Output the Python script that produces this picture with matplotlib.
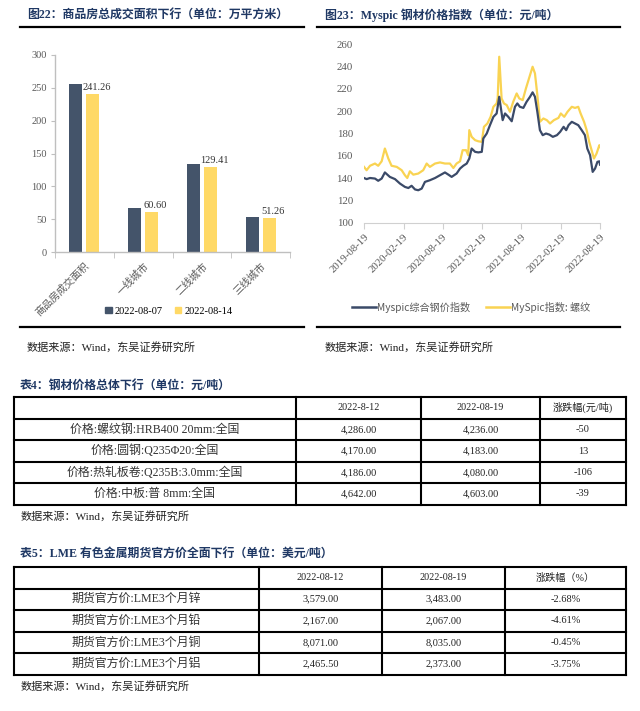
import matplotlib
matplotlib.use("Agg")
import matplotlib.pyplot as plt
import matplotlib.transforms as mtransforms
import pandas as pd
from matplotlib.lines import Line2D
from matplotlib.patches import Patch


W, H = 640, 711
SERIF = ["Liberation Serif", "Noto Sans CJK SC"]
CJK = ["Noto Sans CJK SC", "Liberation Serif"]
NAVY = "#1F3864"
DARK = "#44546A"
GOLD = "#FFD966"
GREY = "#595959"

# ---- fig 22 data
AREA_CATS = ["商品房成交面积", "一线城市", "二线城市", "三线城市"]
AREA_0807 = [256.0, 67.4, 134.5, 53.4]
AREA_0814 = [241.26, 60.60, 129.41, 51.26]
AREA_LEGEND = ["2022-08-07", "2022-08-14"]

# ---- fig 23 data
COMP_DATES = [
    "2019-08-19", "2019-08-31", "2019-09-16", "2019-10-09", "2019-10-24",
    "2019-11-09", "2019-11-24", "2019-12-17", "2020-01-10", "2020-02-02",
    "2020-02-25", "2020-03-12", "2020-03-27", "2020-04-12", "2020-04-27",
    "2020-05-13", "2020-05-28", "2020-06-20", "2020-07-14", "2020-08-06",
    "2020-08-29", "2020-09-14", "2020-09-29", "2020-10-22", "2020-11-07",
    "2020-11-22", "2020-12-08", "2020-12-20", "2020-12-31", "2021-01-16",
    "2021-01-31", "2021-02-16", "2021-02-23", "2021-03-11", "2021-03-26",
    "2021-04-11", "2021-04-26", "2021-05-08", "2021-05-24", "2021-06-04",
    "2021-06-19", "2021-07-05", "2021-07-20", "2021-07-31", "2021-08-12",
    "2021-08-28", "2021-09-12", "2021-09-28", "2021-10-10", "2021-10-21",
    "2021-11-01", "2021-11-13", "2021-11-26", "2021-12-11", "2021-12-27",
    "2022-01-12", "2022-01-31", "2022-02-15", "2022-03-03", "2022-03-15",
    "2022-03-26", "2022-04-10", "2022-04-25", "2022-05-10", "2022-05-26",
    "2022-06-10", "2022-06-21", "2022-07-04", "2022-07-16", "2022-07-27",
    "2022-08-07", "2022-08-16", "2022-08-19",
]
COMP_VALUES = [
    140, 139, 140, 139.5, 137.5, 139.5, 145, 141, 139, 135,
    132, 131, 133, 129.7, 129, 130.5, 136.5, 138, 140, 142.5,
    145, 143, 141, 144, 148.5, 151, 153, 157.5, 166.5, 163.5,
    163, 163.5, 175.5, 180, 187.5, 195, 198, 213, 192, 198,
    195, 191, 204, 207, 204, 203, 208.5, 213, 217, 213,
    199.5, 183, 178.5, 180, 179, 177, 178.5, 181.5, 186, 183,
    187.5, 190.5, 189, 187.5, 183, 178.5, 166.5, 160.5, 145.5, 148.5,
    154.5, 155, 152,
]
REBAR_DATES = [
    "2019-08-19", "2019-08-31", "2019-09-16", "2019-10-09", "2019-10-24",
    "2019-11-09", "2019-11-24", "2019-12-10", "2019-12-25", "2020-01-18",
    "2020-02-10", "2020-02-25", "2020-03-07", "2020-03-19", "2020-04-04",
    "2020-04-27", "2020-05-20", "2020-06-05", "2020-06-20", "2020-07-14",
    "2020-08-06", "2020-08-29", "2020-09-21", "2020-10-07", "2020-10-22",
    "2020-11-07", "2020-11-19", "2020-12-05", "2020-12-15", "2020-12-20",
    "2020-12-31", "2021-01-16", "2021-01-31", "2021-02-16", "2021-02-26",
    "2021-03-14", "2021-03-29", "2021-04-11", "2021-04-26", "2021-05-01",
    "2021-05-08", "2021-05-19", "2021-05-30", "2021-06-12", "2021-06-27",
    "2021-07-12", "2021-07-28", "2021-08-09", "2021-08-25", "2021-09-09",
    "2021-09-28", "2021-10-10", "2021-10-21", "2021-11-01", "2021-11-13",
    "2021-11-29", "2021-12-15", "2021-12-30", "2022-01-17", "2022-02-07",
    "2022-02-18", "2022-03-06", "2022-03-21", "2022-04-10", "2022-04-25",
    "2022-05-10", "2022-05-21", "2022-06-06", "2022-06-18", "2022-06-30",
    "2022-07-11", "2022-07-22", "2022-08-03", "2022-08-16", "2022-08-19",
]
REBAR_VALUES = [
    150, 147, 151, 153, 151, 155, 166.5, 157.5, 151, 150,
    147, 142.5, 140, 146, 143, 144, 147, 153, 150, 153,
    154, 153, 153, 149, 153, 155, 165, 165, 160.5, 183,
    177, 174, 173, 172.5, 186, 189, 195, 204, 207, 212,
    249, 211.5, 207, 205.5, 199.5, 208.5, 216, 211.5, 210, 220.5,
    232.5, 240, 234, 214.5, 190.5, 193.5, 192, 189, 192, 194,
    198, 195, 199.5, 204, 203, 204, 198, 190.5, 183, 172.5,
    165, 157.5, 162, 169.5, 168,
]
PRICE_LEGEND = ["Myspic综合钢价指数", "MySpic指数: 螺纹"]
DATE_TICKS = ["2019-08-19", "2020-02-19", "2020-08-19", "2021-02-19",
              "2021-08-19", "2022-02-19", "2022-08-19"]

# ---- table 4 data
T4_HEADER = ["2022-8-12", "2022-08-19", "涨跌幅(元/吨)"]
T4_ITEMS = ["价格:螺纹钢:HRB400 20mm:全国", "价格:圆钢:Q235Φ20:全国",
            "价格:热轧板卷:Q235B:3.0mm:全国", "价格:中板:普 8mm:全国"]
T4_PREV = ["4,286.00", "4,170.00", "4,186.00", "4,642.00"]
T4_LAST = ["4,236.00", "4,183.00", "4,080.00", "4,603.00"]
T4_CHG = ["-50", "13", "-106", "-39"]

# ---- table 5 data
T5_HEADER = ["2022-08-12", "2022-08-19", "涨跌幅（%）"]
T5_ITEMS = ["期货官方价:LME3个月锌", "期货官方价:LME3个月铅",
            "期货官方价:LME3个月铜", "期货官方价:LME3个月铝"]
T5_PREV = ["3,579.00", "2,167.00", "8,071.00", "2,465.50"]
T5_LAST = ["3,483.00", "2,067.00", "8,035.00", "2,373.00"]
T5_CHG = ["-2.68%", "-4.61%", "-0.45%", "-3.75%"]

SOURCE = "数据来源：Wind，东吴证券研究所"


def px_axes(fig, x0, y0, x1, y1):
    return fig.add_axes([x0 / W, 1 - y1 / H, (x1 - x0) / W, (y1 - y0) / H])


def draw_table(ax, cols, rows, header, items, prev, last, chg):
    for x in cols:
        ax.plot([x, x], [rows[0], rows[-1]], color="black", lw=1.5,
                solid_capstyle="projecting")
    for y in rows:
        ax.plot([cols[0], cols[-1]], [y, y], color="black", lw=1.5,
                solid_capstyle="projecting")
    for j, txt in enumerate(header):
        xc = (cols[j + 1] + cols[j + 2]) / 2
        yc = (rows[0] + rows[1]) / 2
        ax.text(xc, yc, txt, ha="center", va="center", fontsize=7.3,
                family=SERIF, color="#222222")
    for i in range(len(items)):
        yc = (rows[i + 1] + rows[i + 2]) / 2
        ax.text((cols[0] + cols[1]) / 2, yc, items[i], ha="center",
                va="center", fontsize=8.6, family=SERIF, color="#333333")
        for j, val in enumerate([prev[i], last[i], chg[i]]):
            xc = (cols[j + 1] + cols[j + 2]) / 2
            ax.text(xc, yc, val, ha="center", va="center", fontsize=7.5,
                    family=SERIF, color="#222222")


def main() -> None:
    fig = plt.figure(figsize=(W / 100, H / 100), dpi=100)

    page = fig.add_axes([0, 0, 1, 1])
    page.set_xlim(0, W)
    page.set_ylim(H, 0)
    page.axis("off")

    # titles, rules and sources
    page.text(27, 15, "图22：商品房总成交面积下行（单位：万平方米）", fontsize=8.6,
              weight="bold", color=NAVY, family=SERIF, va="center")
    page.text(325, 15, "图23：Myspic 钢材价格指数（单位：元/吨）", fontsize=8.6,
              weight="bold", color=NAVY, family=SERIF, va="center")
    for x0, x1 in [(20, 304), (317, 620)]:
        page.plot([x0, x1], [26.5, 26.5], color="black", lw=1.6)
        page.plot([x0, x1], [326.5, 326.5], color="black", lw=1.6)
    page.text(27, 347, SOURCE, fontsize=8, family=SERIF, va="center", color="#222222")
    page.text(325, 347, SOURCE, fontsize=8, family=SERIF, va="center", color="#222222")

    page.text(20, 386, "表4：钢材价格总体下行（单位：元/吨）", fontsize=8.6,
              weight="bold", color=NAVY, family=SERIF, va="center")
    draw_table(page, [14, 296, 421, 540, 626],
               [397, 418.7, 440.3, 462, 483.3, 504.5],
               T4_HEADER, T4_ITEMS, T4_PREV, T4_LAST, T4_CHG)
    page.text(21, 516, SOURCE, fontsize=8, family=SERIF, va="center", color="#222222")

    page.text(20, 554, "表5：LME 有色金属期货官方价全面下行（单位：美元/吨）", fontsize=8.6,
              weight="bold", color=NAVY, family=SERIF, va="center")
    draw_table(page, [14, 259, 382, 505, 626],
               [567, 588.5, 610, 631.7, 653.3, 675],
               T5_HEADER, T5_ITEMS, T5_PREV, T5_LAST, T5_CHG)
    page.text(21, 686, SOURCE, fontsize=8, family=SERIF, va="center", color="#222222")

    # ---- bar chart
    ax1 = px_axes(fig, 55, 55, 290, 252)
    xs = range(len(AREA_CATS))
    ax1.bar([x - 0.145 for x in xs], AREA_0807, width=0.22, color=DARK)
    bars = ax1.bar([x + 0.145 for x in xs], AREA_0814, width=0.22, color=GOLD)
    for b, v in zip(bars, AREA_0814):
        ax1.text(b.get_x() + b.get_width() / 2 + 0.06, v + 3, f"{v:.2f}",
                 ha="center", va="bottom", fontsize=7.5, family=SERIF, color="#333333")
    ax1.set_xlim(-0.5, 3.5)
    ax1.set_ylim(0, 300)
    ax1.set_yticks(range(0, 301, 50))
    ax1.set_xticks(list(xs))
    ax1.set_xticklabels(AREA_CATS, rotation=45, ha="right", va="top",
                        rotation_mode="anchor", family=CJK, fontsize=7.3, color=GREY)
    shift = mtransforms.ScaledTranslation(6 / 100, 0, fig.dpi_scale_trans)
    for lab in ax1.get_xticklabels():
        lab.set_transform(lab.get_transform() + shift)
    ax1.set_xticks([-0.5, 0.5, 1.5, 2.5, 3.5], minor=True)
    ax1.tick_params(axis="x", which="major", length=0, pad=6)
    ax1.tick_params(axis="x", which="minor", length=4, color="#bfbfbf")
    ax1.tick_params(axis="y", length=3, color="#bfbfbf", labelsize=7.5,
                    labelcolor=GREY, pad=3)
    for lab in ax1.get_yticklabels():
        lab.set_family(SERIF)
    for s in ["top", "right"]:
        ax1.spines[s].set_visible(False)
    for s in ["left", "bottom"]:
        ax1.spines[s].set_color("#bfbfbf")
        ax1.spines[s].set_linewidth(1.0)
    handles = [Patch(color=DARK), Patch(color=GOLD)]
    fig.legend(handles, AREA_LEGEND, loc="center", bbox_to_anchor=(169 / W, 1 - 311 / H),
               ncol=2, frameon=False, handlelength=0.6, handleheight=0.6,
               handletextpad=0.3, columnspacing=1.2,
               prop={"family": SERIF, "size": 7.5})

    # ---- line chart
    ax2 = px_axes(fig, 364, 44.5, 600, 222.5)
    comp = pd.Series(COMP_VALUES, index=pd.to_datetime(COMP_DATES))
    rebar = pd.Series(REBAR_VALUES, index=pd.to_datetime(REBAR_DATES))
    ax2.plot(rebar.index, rebar.values, color="#F9D352", lw=1.6)
    ax2.plot(comp.index, comp.values, color="#3B4A68", lw=1.6)
    ticks = pd.to_datetime(DATE_TICKS)
    ax2.set_xlim(ticks[0], ticks[-1])
    ax2.set_ylim(100, 260)
    ax2.set_yticks(range(100, 261, 20))
    ax2.set_xticks(ticks)
    ax2.set_xticklabels(DATE_TICKS, rotation=45, ha="right", va="top",
                        rotation_mode="anchor", family=SERIF, fontsize=7.8, color=GREY)
    ax2.tick_params(axis="x", length=4, color="#d0d0d0", pad=3)
    ax2.tick_params(axis="y", length=0, pad=8, labelsize=7.8, labelcolor=GREY)
    for lab in ax2.get_yticklabels():
        lab.set_family(SERIF)
    for s in ["top", "right", "left"]:
        ax2.spines[s].set_visible(False)
    ax2.spines["bottom"].set_color("#d0d0d0")
    ax2.spines["bottom"].set_clip_on(False)
    lh = [Line2D([], [], color="#3B4A68", lw=1.8), Line2D([], [], color="#F9D352", lw=1.8)]
    fig.legend(lh, PRICE_LEGEND, loc="center", bbox_to_anchor=(471 / W, 1 - 307 / H),
               ncol=2, frameon=False, handlelength=2.4, handletextpad=0.1,
               columnspacing=1.5, labelcolor=GREY,
               prop={"family": CJK, "size": 7.3})

    fig.savefig("out.png", dpi=100)
    plt.close(fig)


if __name__ == "__main__":
    main()
